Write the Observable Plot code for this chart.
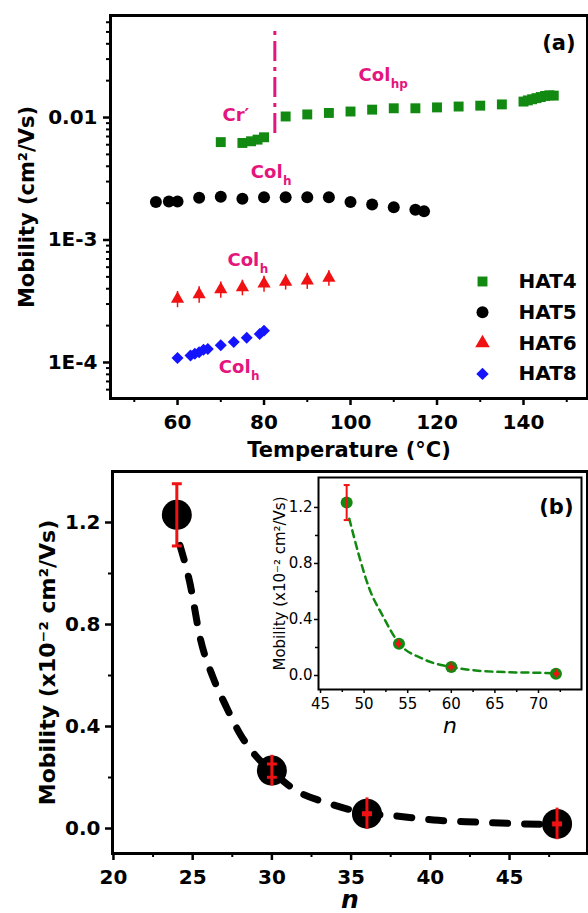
<!DOCTYPE html>
<html><head><meta charset="utf-8">
<script src="https://cdn.jsdelivr.net/npm/d3@7"></script>
<script src="https://cdn.jsdelivr.net/npm/@observablehq/plot@0.6"></script>
<style>
body{margin:0;background:#fff;}
#fig{position:relative;width:588px;height:913px;overflow:hidden;background:#fff;}
#fig svg{position:absolute;left:0;}
</style></head><body><div id="fig"></div>
<script>
// ---------- Panel (a): mobility vs temperature ----------
const hat4T = [70, 75, 77, 78.5, 80, 85, 90, 95, 100, 105, 110, 115, 120, 125, 130, 135, 140, 141, 142, 143, 144, 145, 146, 147];
const hat4M = [0.0063, 0.0062, 0.0064, 0.0066, 0.0069, 0.0102, 0.0106, 0.0109, 0.0112, 0.0116, 0.0119, 0.0119, 0.0121, 0.0123, 0.0125, 0.0128, 0.0135, 0.0138, 0.0141, 0.0144, 0.0147, 0.0150, 0.0152, 0.0151];
const hat5T = [55, 58, 60, 65, 70, 75, 80, 85, 90, 95, 100, 105, 110, 115, 117];
const hat5M = [0.00204, 0.00206, 0.00206, 0.00221, 0.00226, 0.00217, 0.00223, 0.00223, 0.00223, 0.00223, 0.00204, 0.00195, 0.00185, 0.00177, 0.00172];
const hat6T = [60, 65, 70, 75, 80, 85, 90, 95];
const hat6M = [3.3e-4, 3.6e-4, 3.95e-4, 4.1e-4, 4.4e-4, 4.55e-4, 4.65e-4, 4.9e-4];
const hat6Err = [0.5e-4, 0.55e-4, 0.6e-4, 0.6e-4, 0.65e-4, 0.65e-4, 0.7e-4, 0.7e-4];
const hat8T = [60, 63, 64, 65, 66, 67, 70, 73, 76, 79, 80];
const hat8M = [1.09e-4, 1.14e-4, 1.18e-4, 1.21e-4, 1.27e-4, 1.29e-4, 1.38e-4, 1.47e-4, 1.59e-4, 1.71e-4, 1.82e-4];
const seriesNames = ["HAT4", "HAT5", "HAT6", "HAT8"];
const transitionT = 82.5;
const transitionM = [0.0074, 0.053];
const phaseLabels = [
  {text: "Cr′", sub: "", x: 76.6, y: 0.00945},
  {text: "Col", sub: "hp", x: 109.2, y: 0.0200},
  {text: "Col", sub: "h", x: 84.3, y: 0.00318},
  {text: "Col", sub: "h", x: 78.9, y: 6.14e-4},
  {text: "Col", sub: "h", x: 76.9, y: 8.13e-5}
];
const aTickX = [60, 80, 100, 120, 140];
const aMinorX = [50, 70, 90, 110, 130, 150];
const aTickY = [1e-4, 1e-3, 1e-2];
const aTickYLabels = ["1E-4", "1E-3", "0.01"];
const aMinorY = [6e-5, 7e-5, 8e-5, 9e-5, 2e-4, 3e-4, 4e-4, 5e-4, 6e-4, 7e-4, 8e-4, 9e-4, 2e-3, 3e-3, 4e-3, 5e-3, 6e-3, 7e-3, 8e-3, 9e-3, 2e-2, 3e-2, 4e-2, 5e-2, 6e-2];

// ---------- Panel (b): mobility vs n ----------
const nVals = [24, 30, 36, 48];
const mobVals = [1.23, 0.227, 0.058, 0.018];
const mobErr = [0.122, 0.06, 0.062, 0.062];
const mobCap = [0.122, 0.026, 0.004, 0.004];
const fitN = [24.2, 24.8, 25.5, 26.3, 27.1, 28.0, 29.2, 30.0, 31.5, 33.5, 36.0, 38.0, 40.5, 43.0, 45.0, 48.0];
const fitV = [1.11, 0.97, 0.74, 0.59, 0.48, 0.37, 0.27, 0.225, 0.15, 0.10, 0.06, 0.048, 0.032, 0.025, 0.02, 0.015];
const bTickX = [20, 25, 30, 35, 40, 45];
const bMinorX = [22.5, 27.5, 32.5, 37.5, 42.5, 47.5];
const bTickY = [0, 0.4, 0.8, 1.2];
const bMinorY = [0.2, 0.6, 1.0];

// ---------- Inset ----------
const inN = [48, 54, 60, 72];
const inMob = [1.235, 0.226, 0.06, 0.012];
const inErr = [0.125, 0.03, 0.03, 0.03];
const inCap = [0.125, 0.004, 0.004, 0.004];
const inFitN = [48.3, 49.4, 50.6, 52.1, 54.0, 56.7, 60.0, 62.8, 66.2, 69.7, 72.0];
const inFitV = [1.12, 0.86, 0.62, 0.43, 0.23, 0.12, 0.06, 0.036, 0.024, 0.02, 0.015];
const inTickX = [45, 50, 55, 60, 65, 70];
const inMinorX = [47.5, 52.5, 57.5, 62.5, 67.5, 72.5];
const inTickY = [0, 0.4, 0.8, 1.2];
const inMinorY = [0.2, 0.6, 1.0];

// ---------- styles ----------
const GREEN = "#128a12", MAG = "#e4157c", RED = "#f01212", BLUE = "#1414ff", BLACK = "#000";
const FONT = "DejaVu Sans";
const rows = (xs, ys, extra = {}) => xs.map((x, i) => {
  const r = {x, y: ys[i]};
  for (const k in extra) r[k] = extra[k][i];
  return r;
});
const capSym = {draw(ctx, size) { const w = Math.sqrt(size); ctx.moveTo(-w / 2, 0); ctx.lineTo(w / 2, 0); }};
const baseStyle = (size, weight) => ({fontFamily: FONT, fontWeight: weight, fontSize: size + "px", background: "transparent", overflow: "visible", color: "black"});
const label = (txt, opts) => Plot.text([txt], {text: d => d, textAnchor: "middle", lineAnchor: "middle", fill: BLACK, ...opts});

const fig = document.getElementById("fig");

// ---------- build (a) ----------
const h4 = rows(hat4T, hat4M), h5 = rows(hat5T, hat5M), h8 = rows(hat8T, hat8M);
const h6 = rows(hat6T, hat6M, {e: hat6Err});
const seriesStyle = [
  {symbol: "square", fill: GREEN, r: 5.6},
  {symbol: "circle", fill: BLACK, r: 6},
  {symbol: "triangle", fill: RED, r: 5.4},
  {symbol: "diamond2", fill: BLUE, r: 5.6}
];
const legendMarks = [];
seriesNames.forEach((name, i) => {
  const st = seriesStyle[i];
  legendMarks.push(Plot.dot([name], {frameAnchor: "top-left", dx: 372, dy: 266 + i * 30.8, symbol: st.symbol, fill: st.fill, r: st.r}));
  legendMarks.push(label(name, {frameAnchor: "top-left", dx: 408, dy: 266 + i * 30.8, textAnchor: "start", fontSize: 20, fontWeight: "bold"}));
});

const a = Plot.plot({
  width: 588, height: 470,
  marginTop: 15, marginLeft: 110, marginRight: 1, marginBottom: 72,
  style: baseStyle(20, "bold"),
  x: {domain: [44.5, 154.8]},
  y: {type: "log", domain: [5.08e-5, 0.0681]},
  marks: [
    Plot.axisX({ticks: aMinorX, tickSize: 4, tickFormat: () => "", strokeWidth: 2, label: null}),
    Plot.axisX({ticks: aTickX, tickSize: 7, tickPadding: 9, strokeWidth: 2.5, fontSize: 20, fontWeight: "bold", label: null}),
    Plot.axisY({ticks: aMinorY, tickSize: 4, tickFormat: () => "", strokeWidth: 2, label: null}),
    Plot.axisY({ticks: aTickY, tickFormat: d => aTickYLabels[aTickY.indexOf(d)], tickSize: 7, tickPadding: 6, strokeWidth: 2.5, fontSize: 20, fontWeight: "bold", label: null}),
    Plot.frame({stroke: BLACK, strokeWidth: 3}),
    Plot.ruleX([transitionT], {x: d => d, y1: transitionM[0], y2: transitionM[1], stroke: MAG, strokeWidth: 3, strokeDasharray: "20,6,4,6"}),
    Plot.ruleX(h6, {x: "x", y1: d => d.y - d.e, y2: d => d.y + d.e, stroke: RED, strokeWidth: 1.5}),
    Plot.dot(h4, {x: "x", y: "y", symbol: "square", fill: GREEN, r: 5.6}),
    Plot.dot(h5, {x: "x", y: "y", symbol: "circle", fill: BLACK, r: 6}),
    Plot.dot(h6, {x: "x", y: "y", symbol: "triangle", fill: RED, r: 4.9}),
    Plot.dot(h8, {x: "x", y: "y", symbol: "diamond2", fill: BLUE, r: 5.4}),
    Plot.text(phaseLabels, {x: "x", y: "y", text: "text", textAnchor: "end", lineAnchor: "bottom", fill: MAG, fontSize: 18, fontWeight: "bold"}),
    Plot.text(phaseLabels, {x: "x", y: "y", text: "sub", textAnchor: "start", lineAnchor: "bottom", dx: 0.5, dy: 7, fill: MAG, fontSize: 12, fontWeight: "bold"}),
    ...legendMarks,
    label("(a)", {frameAnchor: "top-right", dx: -12, dy: 28, textAnchor: "end", fontSize: 21, fontWeight: "bold"}),
    label("Temperature (°C)", {frameAnchor: "bottom", dy: 52, fontSize: 21, fontWeight: "bold"}),
    label("Mobility (cm²/Vs)", {frameAnchor: "left", dx: -83, rotate: -90, fontSize: 21, fontWeight: "bold"})
  ]
});
a.style.top = "0px";
fig.appendChild(a);

// ---------- build (b) ----------
const bPts = rows(nVals, mobVals, {e: mobErr, c: mobCap});
const bFit = rows(fitN, fitV);
const b = Plot.plot({
  width: 588, height: 443,
  marginTop: 1, marginLeft: 112, marginRight: 1, marginBottom: 60,
  style: baseStyle(20, "bold"),
  x: {domain: [19.94, 49.92]},
  y: {domain: [-0.098, 1.4]},
  marks: [
    Plot.axisX({ticks: bMinorX, tickSize: 4, tickFormat: () => "", strokeWidth: 2, label: null}),
    Plot.axisX({ticks: bTickX, tickSize: 7, tickPadding: 9, strokeWidth: 2.5, fontSize: 20, fontWeight: "bold", label: null}),
    Plot.axisY({ticks: bMinorY, tickSize: 4, tickFormat: () => "", strokeWidth: 2, label: null}),
    Plot.axisY({ticks: bTickY, tickFormat: d3.format(".1f"), tickSize: 7, tickPadding: 5, strokeWidth: 2.5, fontSize: 20, fontWeight: "bold", label: null}),
    Plot.frame({stroke: BLACK, strokeWidth: 3}),
    Plot.line(bFit, {x: "x", y: "y", curve: "monotone-x", stroke: BLACK, strokeWidth: 7, strokeDasharray: "15,17", strokeLinecap: "round"}),
    Plot.dot(bPts, {x: "x", y: "y", r: 15, fill: BLACK}),
    Plot.ruleX(bPts, {x: "x", y1: d => d.y - d.e, y2: d => d.y + d.e, stroke: RED, strokeWidth: 3}),
    Plot.dot(bPts, {x: "x", y: d => d.y + d.c, symbol: capSym, r: 5.6, fill: "none", stroke: RED, strokeWidth: 3}),
    Plot.dot(bPts, {x: "x", y: d => d.y - d.c, symbol: capSym, r: 5.6, fill: "none", stroke: RED, strokeWidth: 3}),
    label("(b)", {frameAnchor: "top-right", dx: -14, dy: 36, textAnchor: "end", fontSize: 21, fontWeight: "bold"}),
    label("n", {frameAnchor: "bottom", dy: 46, fontSize: 25, fontWeight: "bold", fontStyle: "italic"}),
    label("Mobility (x10⁻² cm²/Vs)", {frameAnchor: "left", dx: -65, rotate: -90, fontSize: 22, fontWeight: "bold"})
  ]
});
b.style.top = "470px";
fig.appendChild(b);

// ---------- build inset ----------
const iPts = rows(inN, inMob, {e: inErr, c: inCap});
const iFit = rows(inFitN, inFitV);
const ins = Plot.plot({
  width: 588, height: 443,
  marginTop: 7, marginLeft: 318, marginRight: 7, marginBottom: 224,
  style: baseStyle(15, "normal"),
  x: {domain: [44.77, 74.93]},
  y: {domain: [-0.1, 1.414]},
  marks: [
    Plot.axisX({ticks: inMinorX, tickSize: 3, tickFormat: () => "", strokeWidth: 1.5, label: null}),
    Plot.axisX({ticks: inTickX, tickSize: 4, tickPadding: 5, strokeWidth: 1.5, fontSize: 15, label: null}),
    Plot.axisY({ticks: inMinorY, tickSize: 3, tickFormat: () => "", strokeWidth: 1.5, label: null}),
    Plot.axisY({ticks: inTickY, tickFormat: d3.format(".1f"), tickSize: 4, tickPadding: 2, strokeWidth: 1.5, fontSize: 15, label: null}),
    Plot.frame({stroke: BLACK, strokeWidth: 2}),
    Plot.line(iFit, {x: "x", y: "y", curve: "monotone-x", stroke: GREEN, strokeWidth: 2.5, strokeDasharray: "7,5"}),
    Plot.dot(iPts, {x: "x", y: "y", r: 6, fill: GREEN}),
    Plot.ruleX(iPts, {x: "x", y1: d => d.y - d.e, y2: d => d.y + d.e, stroke: RED, strokeWidth: 2}),
    Plot.dot(iPts, {x: "x", y: d => d.y + d.c, symbol: capSym, r: 3.4, fill: "none", stroke: RED, strokeWidth: 2}),
    Plot.dot(iPts, {x: "x", y: d => d.y - d.c, symbol: capSym, r: 3.4, fill: "none", stroke: RED, strokeWidth: 2}),
    label("n", {frameAnchor: "bottom", dy: 36, fontSize: 22, fontStyle: "italic", fontWeight: "normal"}),
    label("Mobility (x10⁻² cm²/Vs)", {frameAnchor: "left", dx: -38, rotate: -90, fontSize: 15, fontWeight: "normal"})
  ]
});
ins.style.top = "470px";
fig.appendChild(ins);
</script></body></html>
